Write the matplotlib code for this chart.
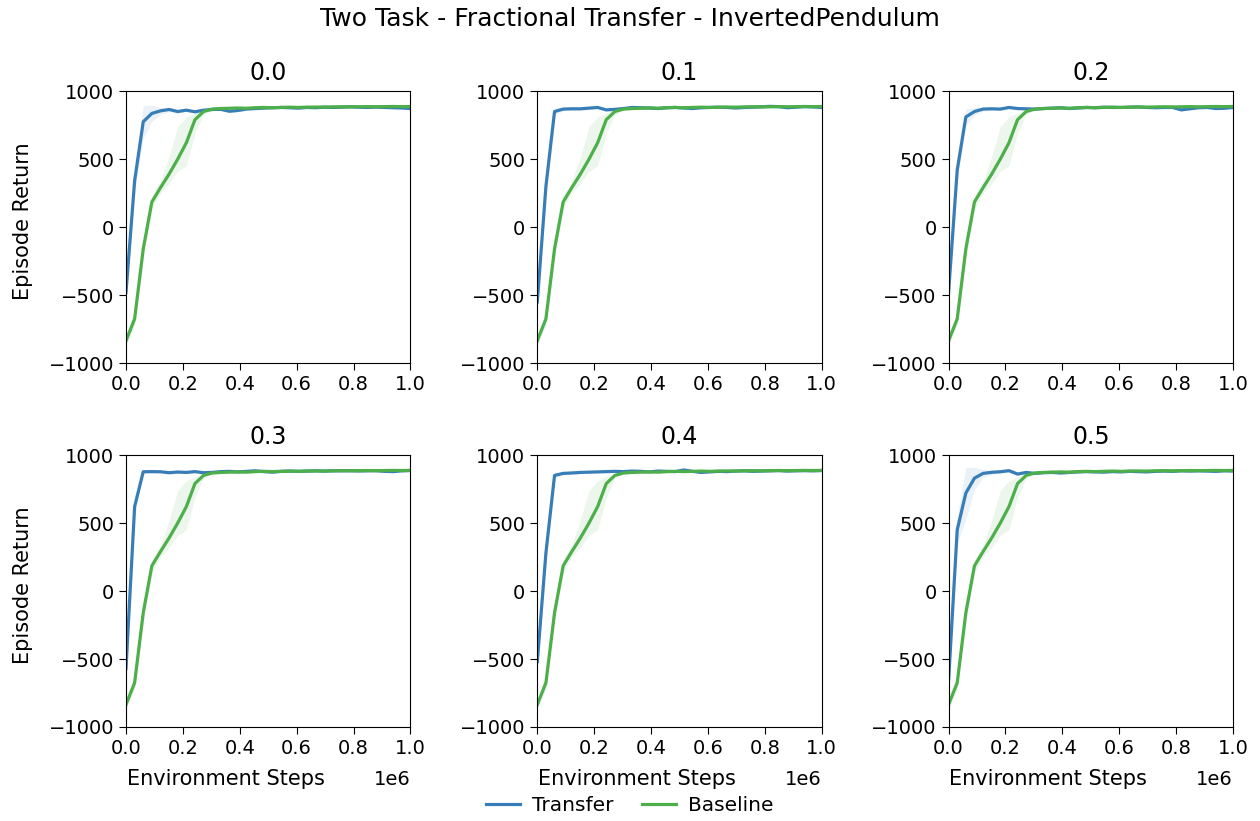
import numpy as np
import matplotlib
matplotlib.use("Agg")
import matplotlib.pyplot as plt

# ---------------- data ----------------
fractions = ["0.0", "0.1", "0.2", "0.3", "0.4", "0.5"]
n_points = 34
steps = np.linspace(0, 1e6, n_points)

baseline_mean = [-835, -675, -160, 185, 290, 390, 500, 620, 790, 850, 868, 872,
                 874, 876, 874, 878, 880, 878, 880, 882, 880, 882, 883, 882,
                 884, 885, 884, 885, 886, 885, 886, 887, 886, 887]
baseline_lo = [-870, -720, -230, 130, 250, 320, 410, 450, 690, 830, 858, 864,
               866, 868, 866, 870, 872, 870, 872, 874, 872, 874, 875, 874,
               876, 877, 876, 877, 878, 877, 878, 879, 878, 879]
baseline_hi = [-800, -620, -100, 230, 340, 520, 740, 810, 840, 865, 878, 880,
               882, 884, 882, 886, 888, 886, 888, 890, 888, 890, 891, 890,
               892, 893, 892, 893, 894, 893, 894, 895, 894, 895]

transfer_mean = {
    "0.0": [-480, 340, 775, 836, 855, 865, 850, 860, 848, 860, 865, 866, 852,
            858, 868, 872, 875, 878, 880, 878, 875, 880, 878, 882, 880, 882,
            885, 882, 880, 883, 880, 878, 876, 872],
    "0.1": [-550, 300, 850, 868, 870, 870, 875, 880, 862, 866, 872, 880, 878,
            876, 872, 878, 880, 876, 872, 878, 880, 882, 880, 876, 880, 882,
            885, 888, 886, 878, 882, 886, 884, 880],
    "0.2": [-480, 420, 810, 850, 868, 870, 868, 880, 872, 870, 868, 872, 875,
            878, 872, 876, 880, 878, 882, 880, 880, 882, 884, 880, 878, 880,
            880, 862, 870, 878, 880, 872, 874, 880],
    "0.3": [-570, 620, 877, 878, 877, 870, 875, 872, 878, 870, 872, 878, 880,
            876, 880, 884, 878, 874, 880, 882, 880, 882, 884, 882, 884, 884,
            885, 883, 884, 885, 880, 878, 884, 886],
    "0.4": [-520, 280, 850, 865, 868, 872, 874, 876, 878, 880, 878, 882, 880,
            876, 882, 880, 878, 890, 880, 872, 876, 880, 878, 882, 884, 880,
            882, 884, 886, 882, 884, 885, 884, 886],
    "0.5": [-660, 450, 720, 830, 865, 873, 877, 885, 860, 872, 865, 870, 872,
            868, 872, 876, 878, 876, 874, 878, 876, 880, 878, 876, 880, 882,
            880, 884, 882, 884, 882, 880, 884, 882],
}
transfer_spread = {
    "0.0": [30, 80, 120, 60, 25, 15, 12, 10] + [8] * 26,
    "0.1": [60, 60, 25, 12, 10, 10, 10, 10] + [8] * 26,
    "0.2": [40, 80, 60, 30, 15, 12, 10, 10] + [8] * 26,
    "0.3": [40, 40, 10, 10, 10, 10, 10, 10] + [8] * 26,
    "0.4": [40, 60, 20, 10, 10, 10, 10, 10] + [8] * 26,
    "0.5": [40, 100, 190, 80, 30, 15, 12, 10] + [8] * 26,
}

blue = "#377eb8"
green = "#4daf4a"

# ---------------- figure ----------------
plt.rcParams["font.family"] = ["DejaVu Sans"]
fig, axes = plt.subplots(2, 3, figsize=(12.6, 8.21), dpi=100)
fig.subplots_adjust(left=0.1, right=0.9786, top=0.889, bottom=0.1145,
                    wspace=0.446, hspace=0.338)

fs_tick = 14
fs_label = 15
for i, (ax, frac) in enumerate(zip(axes.flat, fractions)):
    tm = np.array(transfer_mean[frac])
    ts = np.array(transfer_spread[frac])
    ax.fill_between(steps, tm - ts, tm + ts, color=blue, alpha=0.1, lw=0)
    ax.fill_between(steps, baseline_lo, baseline_hi, color=green, alpha=0.1, lw=0)
    l1, = ax.plot(steps, tm, color=blue, lw=2.3, label="Transfer")
    l2, = ax.plot(steps, baseline_mean, color=green, lw=2.3, label="Baseline")
    ax.set_xlim(0, 1e6)
    ax.set_ylim(-1000, 1000)
    ax.set_yticks([-1000, -500, 0, 500, 1000])
    ax.set_xticks(np.linspace(0, 1e6, 6))
    ax.set_title(frac, fontsize=17, pad=8)
    ax.tick_params(labelsize=fs_tick, length=5)
    ax.ticklabel_format(axis="x", style="sci", scilimits=(0, 0))
    ax.xaxis.get_offset_text().set_fontsize(fs_tick)
    ax.xaxis.OFFSETTEXTPAD = 9
    if i % 3 == 0:
        ax.set_ylabel("Episode Return", fontsize=fs_label)
        ax.yaxis.set_label_coords(-0.326, 0.52)
    if i >= 3:
        ax.set_xlabel("Environment Steps", fontsize=fs_label)
        ax.xaxis.set_label_coords(0.35, -0.155)
    else:
        ax.xaxis.get_offset_text().set_visible(False)

fig.suptitle("Two Task - Fractional Transfer - InvertedPendulum", fontsize=18, y=0.992)
fig.legend([l1, l2], ["Transfer", "Baseline"], loc="lower center", ncol=2,
           frameon=False, fontsize=14.5, bbox_to_anchor=(0.5, -0.015),
           handlelength=1.7, columnspacing=1.4, handletextpad=0.6)

fig.savefig("out.png", dpi=100)
